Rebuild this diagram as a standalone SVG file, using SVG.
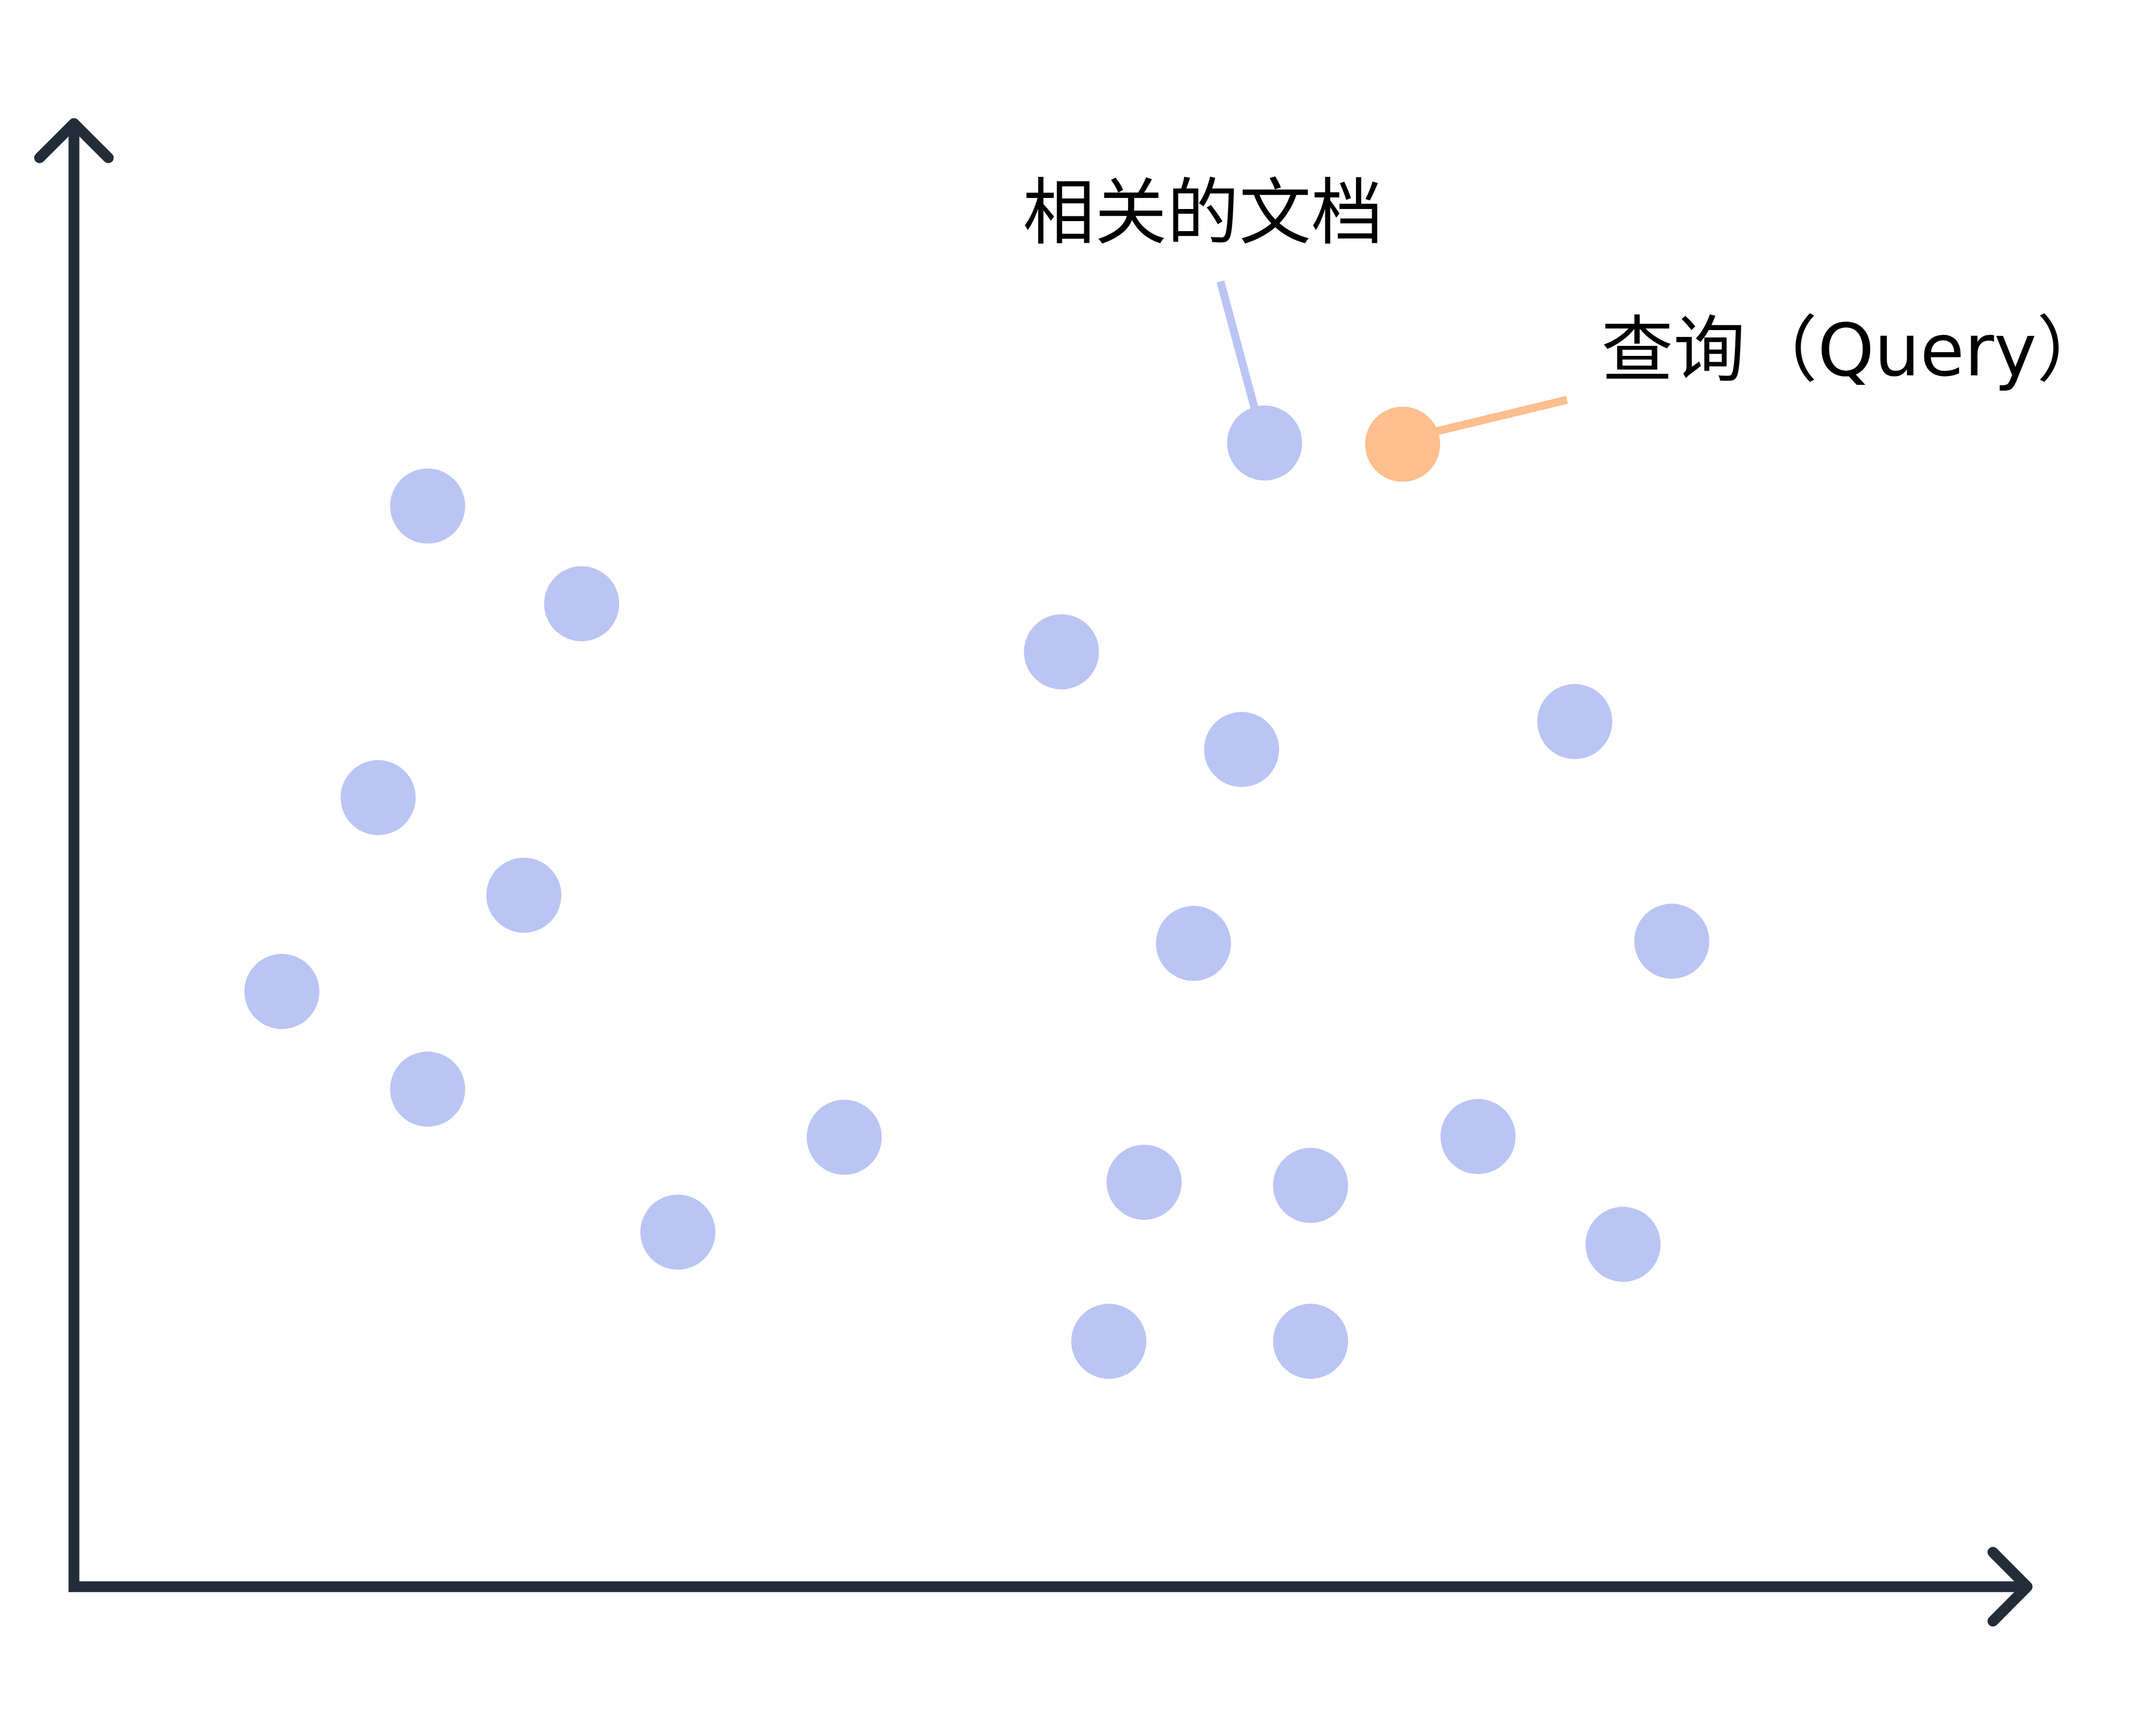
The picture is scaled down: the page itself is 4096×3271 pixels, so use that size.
<svg xmlns="http://www.w3.org/2000/svg" width="4096" height="3271" viewBox="0 0 4096 3271">
  <style>
    .axis { fill: none; stroke: #232d3a; stroke-width: 20.5; stroke-linejoin: miter; stroke-linecap: butt; }
    .head { fill: none; stroke: #232d3a; stroke-width: 20.5; stroke-linejoin: round; stroke-linecap: round; }
    .doc { fill: #bbc5f4; }
    .query { fill: #febe8e; }
    .lead-doc { stroke: #bbc5f4; stroke-width: 15.2; stroke-linecap: butt; fill: none; }
    .lead-query { stroke: #febe8e; stroke-width: 15.2; stroke-linecap: butt; fill: none; }
    .label { font-family: "DejaVu Sans", "Noto Sans CJK SC", sans-serif; font-size: 137px; fill: #000000; }
  </style>
  <rect x="0" y="0" width="4096" height="3271" fill="#ffffff"/>
  <g id="axes">
    <polyline class="axis" points="140.5,234.6 140.5,3014 3851.3,3014"/>
    <polyline class="head" points="75.2,299.8 140.5,234.6 205.8,299.8"/>
    <polyline class="head" points="3786.1,2948.5 3851.3,3014 3786.1,3079.5"/>
  </g>
  <g id="connectors">
    <line class="lead-doc" x1="2318.6" y1="534.6" x2="2401.3" y2="841.5"/>
    <line class="lead-query" x1="2976.8" y1="759.5" x2="2664.7" y2="834.8"/>
  </g>
  <g id="doc-1"><circle class="doc" cx="812.4" cy="961.3" r="71.3"/></g>
  <g id="doc-2"><circle class="doc" cx="1105.0" cy="1146.8" r="71.3"/></g>
  <g id="doc-3"><circle class="doc" cx="718.4" cy="1515.1" r="71.3"/></g>
  <g id="doc-4"><circle class="doc" cx="995.2" cy="1700.5" r="71.3"/></g>
  <g id="doc-5"><circle class="doc" cx="535.5" cy="1883.4" r="71.3"/></g>
  <g id="doc-6"><circle class="doc" cx="812.4" cy="2068.9" r="71.3"/></g>
  <g id="doc-7"><circle class="doc" cx="1287.8" cy="2340.5" r="71.3"/></g>
  <g id="doc-8"><circle class="doc" cx="1603.9" cy="2160.3" r="71.3"/></g>
  <g id="doc-9"><circle class="doc" cx="2016.6" cy="1238.2" r="71.3"/></g>
  <g id="doc-10"><circle class="doc" cx="2358.8" cy="1423.6" r="71.3"/></g>
  <g id="doc-relevant"><circle class="doc" cx="2402.5" cy="841.5" r="71.3"/></g>
  <g id="query-point"><circle class="query" cx="2664.7" cy="843.8" r="71.3"/></g>
  <g id="doc-13"><circle class="doc" cx="2991.8" cy="1370.6" r="71.3"/></g>
  <g id="doc-14"><circle class="doc" cx="2267.4" cy="1792.0" r="71.3"/></g>
  <g id="doc-15"><circle class="doc" cx="3176.1" cy="1787.9" r="71.3"/></g>
  <g id="doc-16"><circle class="doc" cx="2173.6" cy="2245.7" r="71.3"/></g>
  <g id="doc-17"><circle class="doc" cx="2489.8" cy="2251.8" r="71.3"/></g>
  <g id="doc-18"><circle class="doc" cx="2808.0" cy="2158.9" r="71.3"/></g>
  <g id="doc-19"><circle class="doc" cx="3083.5" cy="2363.6" r="71.3"/></g>
  <g id="doc-20"><circle class="doc" cx="2106.5" cy="2547.9" r="71.3"/></g>
  <g id="doc-21"><circle class="doc" cx="2489.8" cy="2547.9" r="71.3"/></g>
  <g id="label-relevant"><text class="label" x="1943" y="452">相关的文档</text></g>
  <g id="label-query"><text class="label" x="3042" y="713">查询（Query）</text></g>
</svg>
